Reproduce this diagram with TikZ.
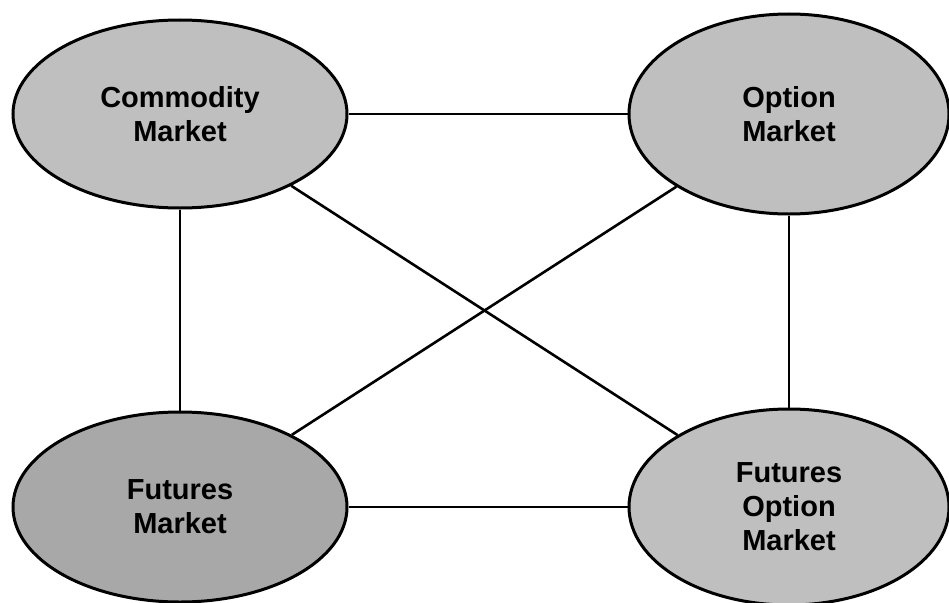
\documentclass[tikz,border=0pt]{standalone}
\usepackage{fontspec}
\setmainfont{Liberation Sans}
\usetikzlibrary{shapes.geometric}

\begin{document}
\begin{tikzpicture}[x=1pt,y=-1pt, every node/.style={font=\bfseries\fontsize{29}{34}\selectfont, align=center},
        market/.style={ellipse, draw=black, line width=3pt, fill=black!25, inner sep=0pt}]
            \useasboundingbox (0,0) rectangle (949,602);

            \node[market, minimum width=334pt, minimum height=188pt] (commodity) at (180,114) {Commodity\\Market};
            \node[market, minimum width=320pt, minimum height=200pt] (option) at (789,114) {Option\\Market};
            \node[market, fill=black!34, minimum width=334pt, minimum height=190pt] (futures) at (180,507) {Futures\\Market};
            \node[market, minimum width=320pt, minimum height=196pt] (futopt) at (789,507) {Futures\\Option\\Market};

            \foreach \a/\b in {commodity/option, commodity/futures, option/futopt, futures/futopt, commodity/futopt, option/futures} {
                \draw[line width=2.6pt] (\a) -- (\b);
            }
        \end{tikzpicture}
\end{document}
